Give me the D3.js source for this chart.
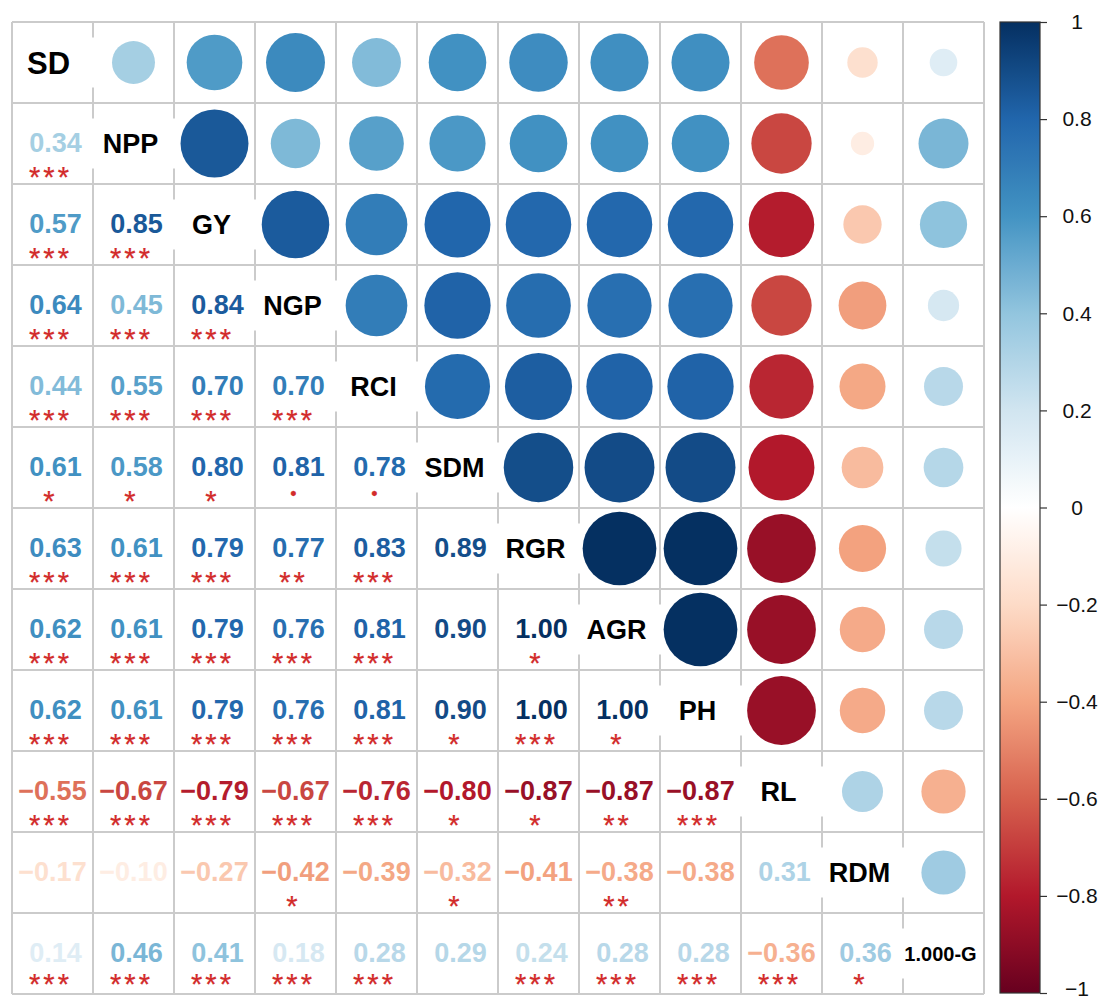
<!DOCTYPE html>
<html>
<head>
<meta charset="utf-8">
<script src="https://cdn.jsdelivr.net/npm/d3@7"></script>
<style>
  html, body { margin: 0; padding: 0; background: #ffffff; }
  svg { display: block; font-family: "Liberation Sans", Arial, Helvetica, sans-serif; }
</style>
</head>
<body>
<svg id="chart" width="1107" height="1000"></svg>
<script>
// Trait names, in matrix order
const traits = ["SD", "NPP", "GY", "NGP", "RCI", "SDM", "RGR", "AGR", "PH", "RL", "RDM", "1.000-G"];

// Lower-triangle Pearson coefficients: row i holds r(i, 0..i-1)
const rSD  = [];
const rNPP = [0.34];
const rGY  = [0.57, 0.85];
const rNGP = [0.64, 0.45, 0.84];
const rRCI = [0.44, 0.55, 0.70, 0.70];
const rSDM = [0.61, 0.58, 0.80, 0.81, 0.78];
const rRGR = [0.63, 0.61, 0.79, 0.77, 0.83, 0.89];
const rAGR = [0.62, 0.61, 0.79, 0.76, 0.81, 0.90, 1.00];
const rPH  = [0.62, 0.61, 0.79, 0.76, 0.81, 0.90, 1.00, 1.00];
const rRL  = [-0.55, -0.67, -0.79, -0.67, -0.76, -0.80, -0.87, -0.87, -0.87];
const rRDM = [-0.17, -0.10, -0.27, -0.42, -0.39, -0.32, -0.41, -0.38, -0.38, 0.31];
const rG   = [0.14, 0.46, 0.41, 0.18, 0.28, 0.29, 0.24, 0.28, 0.28, -0.36, 0.36];

// Significance marks for the same lower-triangle cells
const sSD  = [];
const sNPP = ["***"];
const sGY  = ["***", "***"];
const sNGP = ["***", "***", "***"];
const sRCI = ["***", "***", "***", "***"];
const sSDM = ["*", "*", "*", ".", "."];
const sRGR = ["***", "***", "***", "**", "***", ""];
const sAGR = ["***", "***", "***", "***", "***", "", "*"];
const sPH  = ["***", "***", "***", "***", "***", "*", "***", "*"];
const sRL  = ["***", "***", "***", "***", "***", "*", "*", "**", "***"];
const sRDM = ["", "", "", "*", "", "*", "", "**", "", ""];
const sG   = ["***", "***", "***", "***", "***", "", "***", "***", "***", "***", "*"];

// Colour bar tick values
const barTicks = [1, 0.8, 0.6, 0.4, 0.2, 0, -0.2, -0.4, -0.6, -0.8, -1];

const lowerR = [rSD, rNPP, rGY, rNGP, rRCI, rSDM, rRGR, rAGR, rPH, rRL, rRDM, rG];
const lowerS = [sSD, sNPP, sGY, sNGP, sRCI, sSDM, sRGR, sAGR, sPH, sRL, sRDM, sG];

const n = traits.length;

// Full symmetric matrix built from the lower triangle
const cells = [];
for (let i = 0; i < n; i++) {
  for (let j = 0; j < i; j++) {
    cells.push({ row: i, col: j, r: lowerR[i][j], sig: lowerS[i][j], part: "lower" });
    cells.push({ row: j, col: i, r: lowerR[i][j], sig: "", part: "upper" });
  }
}

const svg = d3.select("#chart");

// Layout
const W = 1107, H = 1000;
const gridLeft = 12, gridTop = 22, gridRight = 984, gridBottom = 994;
const x = d3.scaleBand().domain(d3.range(n)).range([gridLeft, gridRight]);
const y = d3.scaleBand().domain(d3.range(n)).range([gridTop, gridBottom]);
const cw = x.bandwidth();

// Diverging red-blue palette, white at zero
const color = d3.scaleLinear()
  .domain([-1, -0.8, -0.6, -0.4, -0.2, 0, 0.2, 0.4, 0.6, 0.8, 1])
  .range(["#67001F", "#B2182B", "#D6604D", "#F4A582", "#FDDBC7", "#FFFFFF",
          "#D1E5F0", "#92C5DE", "#4393C3", "#2166AC", "#053061"])
  .interpolate(d3.interpolateRgb);

// Circle area proportional to |r|
const radius = d3.scaleSqrt().domain([0, 1]).range([0, cw * 0.455]);

// Grid
const grid = svg.append("g").attr("stroke", "#cbcbcb").attr("stroke-width", 2);
d3.range(n + 1).forEach(k => {
  const gx = k < n ? x(k) : gridRight;
  const gy = k < n ? y(k) : gridBottom;
  grid.append("line").attr("x1", gx).attr("x2", gx).attr("y1", gridTop).attr("y2", gridBottom);
  grid.append("line").attr("y1", gy).attr("y2", gy).attr("x1", gridLeft).attr("x2", gridRight);
});

// Upper triangle: circles
svg.append("g").selectAll("circle")
  .data(cells.filter(d => d.part === "upper"))
  .join("circle")
  .attr("cx", d => x(d.col) + cw / 2)
  .attr("cy", d => y(d.row) + cw / 2)
  .attr("r", d => radius(Math.abs(d.r)))
  .attr("fill", d => color(d.r));

// Diagonal: trait names on white boxes
const diag = svg.append("g");
diag.selectAll("rect")
  .data(traits)
  .join("rect")
  .attr("x", (d, i) => Math.max(x(i) - 1, gridLeft + 1))
  .attr("width", (d, i) => Math.min(x(i) + cw + 1, gridRight - 1) - Math.max(x(i) - 1, gridLeft + 1))
  .attr("y", (d, i) => y(i) + cw / 2 - 25)
  .attr("height", 50)
  .attr("fill", "#ffffff");
diag.selectAll("text")
  .data(traits)
  .join("text")
  .attr("x", (d, i) => x(i) + cw / 2 - (i === 0 ? 4 : 3))
  .attr("y", (d, i) => y(i) + cw / 2)
  .attr("dy", "0.36em")
  .attr("text-anchor", "middle")
  .attr("font-weight", "bold")
  .attr("font-size", (d, i) => i === 0 ? 31 : (d.length > 4 ? 20 : 27))
  .attr("fill", "#000000")
  .text(d => d);

// Lower triangle: coefficients
const fmt = d3.format(".2f");
const lower = cells.filter(d => d.part === "lower");
svg.append("g").selectAll("text")
  .data(lower)
  .join("text")
  .attr("x", d => x(d.col) + cw / 2 + (d.r < 0 ? 0 : 3))
  .attr("y", d => y(d.row) + cw / 2)
  .attr("dy", "0.3em")
  .attr("text-anchor", "middle")
  .attr("font-weight", "bold")
  .attr("font-size", 27)
  .attr("fill", d => color(d.r))
  .text(d => fmt(d.r));

// Significance marks below each coefficient (kept inside the frame on the last row)
const starSize = 29;
svg.append("g").selectAll("text")
  .data(lower.filter(d => d.sig !== ""))
  .join("text")
  .attr("x", d => x(d.col) + cw / 2 - 2)
  .attr("y", d => d.sig === "."
    ? y(d.row) + cw / 2 + 32
    : Math.min(y(d.row) + cw / 2 + 43, H - 0.22 * starSize))
  .attr("text-anchor", "middle")
  .attr("font-size", d => d.sig === "." ? 18 : starSize)
  .attr("letter-spacing", d => d.sig === "." ? 0 : 3)
  .attr("fill", "#d22b2b")
  .attr("stroke", "#d22b2b")
  .attr("stroke-width", 0.25)
  .text(d => d.sig === "." ? "\u2022" : d.sig);

// Colour bar
const barX = 1000, barW = 40, barTop = 22, barBottom = 993;
const yBar = d3.scaleLinear().domain([-1, 1]).range([barBottom, barTop]);

const grad = svg.append("defs").append("linearGradient")
  .attr("id", "corrGrad")
  .attr("x1", 0).attr("x2", 0).attr("y1", 1).attr("y2", 0);
d3.range(-1, 1.0001, 0.05).forEach(v => {
  grad.append("stop")
    .attr("offset", ((v + 1) / 2 * 100) + "%")
    .attr("stop-color", color(Math.max(-1, Math.min(1, v))));
});

svg.append("rect")
  .attr("x", barX).attr("y", barTop)
  .attr("width", barW).attr("height", barBottom - barTop)
  .attr("fill", "url(#corrGrad)")
  .attr("stroke", "#333333")
  .attr("stroke-width", 1.2);

const barAxis = svg.append("g")
  .attr("transform", `translate(${barX + barW},0)`)
  .call(d3.axisRight(yBar).tickValues(barTicks).tickSize(7).tickFormat(d3.format("~g")));
barAxis.select(".domain").remove();
barAxis.selectAll(".tick line").attr("stroke", "#333333").attr("stroke-width", 1.2);
barAxis.selectAll(".tick text")
  .attr("x", 37)
  .attr("dy", d => d === -1 ? "0.1em" : "0.32em")
  .attr("text-anchor", "middle")
  .attr("font-size", 21)
  .attr("font-family", "\"Liberation Sans\", Arial, sans-serif")
  .attr("fill", "#111111");
</script>
</body>
</html>
